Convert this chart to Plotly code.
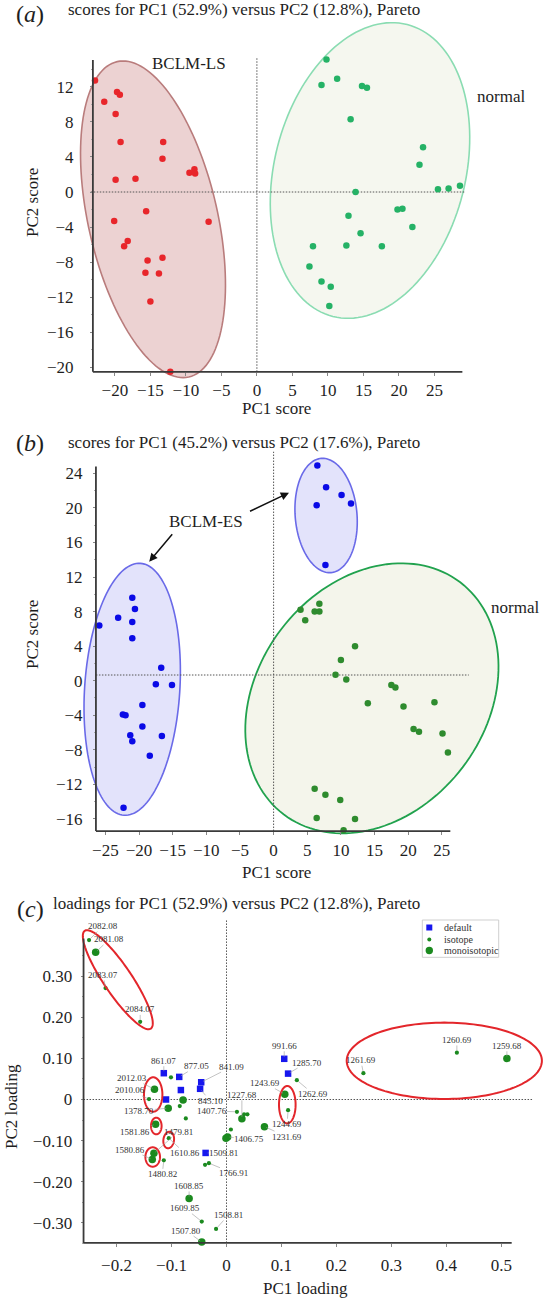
import numpy as np
import plotly.graph_objects as go

W, H = 544, 1298
SERIF = "Liberation Serif"
TXT = "#1e1e1e"

# ---------------- (a) scores, PC1 (52.9%) vs PC2 (12.8%) ----------------
a_ls_pc1 = [-22.8, -21.5, -19.7, -19.3, -19.9, -19.2, -19.9, -17.1, -13.2, -13.3, -9.5, -8.8,
            -8.7, -6.8, -15.6, -20.1, -18.2, -18.7, -15.4, -13.3, -15.7, -13.8, -15.0, -12.2]
a_ls_pc2 = [12.7, 10.3, 11.4, 11.1, 8.9, 5.7, 1.4, 1.5, 5.7, 3.8, 2.2, 2.6,
            2.1, -3.4, -2.2, -3.3, -5.6, -6.2, -7.8, -7.5, -9.2, -9.3, -12.5, -20.5]
a_norm_pc1 = [9.8, 9.1, 11.3, 14.8, 15.5, 13.2, 23.4, 22.9, 25.5, 27.0, 28.6, 13.9,
              19.8, 20.5, 12.9, 21.9, 14.6, 7.9, 12.6, 17.6, 7.4, 9.1, 10.4, 10.2]
a_norm_pc2 = [15.1, 12.2, 12.9, 12.1, 11.9, 8.3, 5.1, 3.1, 0.3, 0.4, 0.7, 0.0,
              -2.0, -1.9, -2.7, -4.0, -4.7, -6.2, -6.1, -6.2, -8.5, -10.2, -10.8, -13.0]
a_xticks = [-20, -15, -10, -5, 0, 5, 10, 15, 20, 25]
a_yticks = [-20, -16, -12, -8, -4, 0, 4, 8, 12]

# ---------------- (b) scores, PC1 (45.2%) vs PC2 (17.6%) ----------------
b_es_pc1 = [6.5, 7.8, 10.1, 11.5, 6.4, 7.7, -25.9, -23.1, -21.0, -20.6, -21.0, -21.0,
            -16.7, -17.5, -15.1, -19.5, -22.4, -22.0, -19.5, -21.3, -21.0, -16.6, -18.4, -22.3]
b_es_pc2 = [24.9, 22.4, 21.5, 20.5, 20.3, 13.4, 6.4, 7.3, 9.6, 8.3, 6.8, 4.9,
            1.5, -0.4, -0.5, -2.8, -3.9, -4.0, -5.3, -6.3, -7.0, -6.4, -8.7, -14.7]
b_norm_pc1 = [4.0, 6.8, 6.1, 6.8, 4.7, 12.1, 10.0, 9.2, 10.8, 17.5, 18.1, 14.0,
              19.3, 23.9, 20.8, 21.6, 25.1, 25.9, 6.1, 7.7, 9.9, 6.4, 12.1, 10.4]
b_norm_pc2 = [8.2, 8.9, 8.0, 8.0, 7.0, 4.0, 2.4, 0.7, 0.15, -0.5, -0.8, -2.6,
              -3.0, -2.5, -5.6, -5.9, -6.1, -8.3, -12.5, -13.2, -13.8, -15.9, -16.0, -17.3]
b_xticks = [-25, -20, -15, -10, -5, 0, 5, 10, 15, 20, 25]
b_yticks = [-16, -12, -8, -4, 0, 4, 8, 12, 16, 20, 24]

# ---------------- (c) loadings, PC1 (52.9%) vs PC2 (12.8%) ----------------
c_def_pc1 = [-0.114, -0.086, -0.083, -0.046, -0.048, -0.110, 0.105, 0.112, -0.038]
c_def_pc2 = [0.064, 0.055, 0.023, 0.042, 0.026, 0.000, 0.099, 0.063, -0.130]
c_def_lab = ["861.07", "877.05", "", "841.09", "845.10", "", "991.66", "1285.70", "1509.81"]

c_iso_pc1 = [-0.250, -0.220, -0.157, 0.419, 0.249, 0.128, 0.112, -0.101, -0.141, -0.085, -0.074,
             -0.105, -0.114, 0.019, 0.032, 0.038, 0.008, -0.039, -0.032, -0.045, -0.019]
c_iso_pc2 = [0.388, 0.271, 0.189, 0.114, 0.064, 0.047, -0.026, 0.054, 0.001, -0.016, -0.046,
             -0.094, -0.148, -0.030, -0.036, -0.036, -0.073, -0.159, -0.155, -0.297, -0.315]
c_iso_lab = ["2082.08", "2083.07", "2084.07", "1260.69", "1261.69", "1262.69", "1244.69", "",
             "2010.06", "", "", "1610.86", "1480.82", "1407.76", "", "", "", "", "1766.91",
             "1609.85", "1508.81"]

c_mono_pc1 = [-0.238, 0.510, 0.106, -0.131, -0.079, -0.106, -0.129, -0.132, -0.135, 0.028,
              0.069, 0.002, -0.001, -0.068, -0.045]
c_mono_pc2 = [0.358, 0.100, 0.013, 0.025, -0.001, -0.021, -0.060, -0.131, -0.146, -0.047,
              -0.066, -0.091, -0.094, -0.241, -0.347]
c_mono_lab = ["2081.08", "1259.68", "1243.69", "2012.03", "", "1378.70", "1581.86", "1479.81",
              "1580.86", "1227.68", "1231.69", "1406.75", "", "1608.85", "1507.80"]
c_xticks = [-0.2, -0.1, 0, 0.1, 0.2, 0.3, 0.4, 0.5]
c_xticktext = ["\u22120.2", "\u22120.1", "0", "0.1", "0.2", "0.3", "0.4", "0.5"]
c_yticks = [-0.3, -0.2, -0.1, 0, 0.1, 0.2, 0.3]
c_yticktext = ["\u22120.30", "\u22120.20", "\u22120.10", "0", "0.10", "0.20", "0.30"]

# label offsets (pixels, text centre relative to point)
label_offsets = {
    "861.07": (0, -12.5), "877.05": (17.7, -10.7), "841.09": (30.7, -15.6), "845.10": (10, 12),
    "991.66": (0, -13), "1285.70": (19, -11), "1509.81": (18.3, 0),
    "2082.08": (13.7, -14), "2083.07": (-2.4, -13.3), "2084.07": (0, -12.4),
    "1260.69": (0, -12.7), "1261.69": (-2.6, -13), "1262.69": (16.3, 13.7), "1244.69": (-1, 14),
    "2010.06": (-19.3, -8.7), "1610.86": (16, 15), "1480.82": (-1.6, 14), "1407.76": (-25.3, -1),
    "1766.91": (24.6, 10), "1609.85": (-16.7, -13.4), "1508.81": (12.3, -14),
    "2081.08": (13.6, -13), "1259.68": (0, -12.6), "1243.69": (-19.7, -11), "2012.03": (-22, -11),
    "1378.70": (-29, 2.7), "1581.86": (-20.7, 7.4), "1479.81": (24.3, -21.6),
    "1580.86": (-22, -10), "1227.68": (0, -24), "1231.69": (22.4, 10), "1406.75": (21.6, 2.3),
    "1608.85": (0, -12.6), "1507.80": (-15.7, -11.6),
}

# ---------------- panel geometry (pixels) ----------------
panels = {
    "a": dict(dom_x=(55, 482), dom_y=(12, 388), x0=256.9, sx=7.10, y0=192.0, sy=8.77,
              xext=(-23.1, 28.94), yext=(-20.5, 15.05)),
    "b": dict(dom_x=(55, 515), dom_y=(440, 845), x0=273.6, sx=6.73, y0=680.7, sy=8.64,
              xext=(-26.4, 26.26), yext=(-17.4, 24.8)),
    "c": dict(dom_x=(55, 544), dom_y=(912, 1256), x0=226.5, sx=549.8, y0=1099.5, sy=411.0,
              xext=(-0.26, 0.5187), yext=(-0.349, 0.392)),
}
suffix = {"a": "", "b": "2", "c": "3"}

def px2x(p, px):
    return (px - p["x0"]) / p["sx"]

def px2y(p, py):
    return (p["y0"] - py) / p["sy"]

layout_axes = {}
tick_cfg = {
    "a": dict(xt=a_xticks, xtt=None, yt=a_yticks, ytt=None, xstand=0, ystand=13,
              yminor=[v for v in range(-20, 15) if v % 4 != 0 and v % 2 == 0]),
    "b": dict(xt=b_xticks, xtt=None, yt=b_yticks, ytt=None, xstand=1, ystand=7,
              yminor=[v for v in range(-16, 25) if v % 4 != 0 and v % 2 == 0]),
    "c": dict(xt=c_xticks, xtt=c_xticktext, yt=c_yticks, ytt=c_yticktext, xstand=4, ystand=5,
              yminor=[-0.35, -0.25, -0.15, -0.05, 0.05, 0.15, 0.25, 0.35]),
}
for k, p in panels.items():
    s = suffix[k]
    tc = tick_cfg[k]
    xr = [px2x(p, p["dom_x"][0]), px2x(p, p["dom_x"][1])]
    yr = [px2y(p, p["dom_y"][1]), px2y(p, p["dom_y"][0])]
    xline_px = p["y0"] - p["yext"][0] * p["sy"]
    yline_px = p["x0"] + p["xext"][0] * p["sx"]
    common = dict(showgrid=False, zeroline=False, showline=False, ticks="outside", ticklen=3,
                  tickwidth=1, tickcolor="#888", automargin=False, anchor="free",
                  tickfont=dict(family=SERIF, size=17, color=TXT), tickmode="array")
    xa = dict(common, domain=[p["dom_x"][0] / W, p["dom_x"][1] / W], range=xr,
              position=1 - xline_px / H, tickvals=tc["xt"], ticklabelstandoff=tc["xstand"])
    ya = dict(common, domain=[1 - p["dom_y"][1] / H, 1 - p["dom_y"][0] / H], range=yr,
              position=yline_px / W, tickvals=tc["yt"], ticklabelstandoff=tc["ystand"],
              minor=dict(tickmode="array", tickvals=tc["yminor"], ticks="outside", ticklen=2,
                         tickcolor="#aaa", tickwidth=1, showgrid=False))
    if tc["xtt"]:
        xa["ticktext"] = tc["xtt"]
    if tc["ytt"]:
        ya["ticktext"] = tc["ytt"]
    layout_axes["xaxis" + s] = xa
    layout_axes["yaxis" + s] = ya

shapes = []
annots = []

def ellipse_shape(k, cx_px, cy_px, a_px, b_px, tilt, fill, line, lw, layer="below"):
    p = panels[k]
    s = suffix[k]
    phi = np.radians(tilt)
    t = np.linspace(0, 2 * np.pi, 145)
    dx = a_px * np.cos(t) * np.sin(phi) + b_px * np.sin(t) * np.cos(phi)
    dy = -a_px * np.cos(t) * np.cos(phi) + b_px * np.sin(t) * np.sin(phi)
    X = px2x(p, cx_px + dx)
    Y = px2y(p, cy_px + dy)
    path = "M " + " L ".join(f"{x:.5f},{y:.5f}" for x, y in zip(X, Y)) + " Z"
    shapes.append(dict(type="path", path=path, xref="x" + s, yref="y" + s, layer=layer,
                       fillcolor=fill, line=dict(color=line, width=lw)))

# (a) ellipses
ellipse_shape("a", 153.0, 219.3, 161.7, 64.6, -12.8, "#ecd2d2", "#b97c7c", 1.6)
ellipse_shape("a", 370.0, 170.5, 150.6, 95.5, 14.3, "#f5f7ef", "#8adcb2", 1.6)
# (b) ellipses
ellipse_shape("b", 326.1, 515.5, 57.3, 30.9, -4.9, "#e3e3fb", "#6a6ae8", 1.6)
ellipse_shape("b", 132.2, 689.3, 126.2, 47.6, 3.7, "#e3e3fb", "#6a6ae8", 1.6)
ellipse_shape("b", 371.9, 698.3, 145.8, 114.0, 37.3, "#f4f5eb", "#21a24e", 1.8)
# (c) red highlight ellipses
RED = "#e3262b"
NOFILL = "rgba(0,0,0,0)"
ellipse_shape("c", 117.8, 979.7, 59.0, 14.0, -34.0, NOFILL, RED, 2, "above")
ellipse_shape("c", 444.3, 1060.8, 38.2, 97.6, 0.0, NOFILL, RED, 2, "above")
ellipse_shape("c", 287.3, 1104.7, 18.7, 8.3, 0.0, NOFILL, RED, 2, "above")
ellipse_shape("c", 153.2, 1094.5, 17.2, 9.2, 0.0, NOFILL, RED, 2, "above")
ellipse_shape("c", 156.3, 1126.0, 8.3, 5.3, 0.0, NOFILL, RED, 2, "above")
ellipse_shape("c", 168.7, 1140.0, 8.3, 5.3, 8.0, NOFILL, RED, 2, "above")
ellipse_shape("c", 152.7, 1157.0, 9.7, 7.3, 0.0, NOFILL, RED, 2, "above")

# axis lines and dotted reference lines
ref_lines = {
    "a": dict(h=(0.0, -23.4, 29.4), v=(0.0, -20.5, 15.25)),
    "b": dict(h=(0.66, -26.4, 29.0), v=(0.0, -17.4, 26.5)),
    "c": dict(h=(0.0, -0.26, 0.5566), v=(0.0, -0.349, 0.437)),
}
for k, p in panels.items():
    s = suffix[k]
    (x_lo, x_hi), (y_lo, y_hi) = p["xext"], p["yext"]
    ax_line = dict(color="#3a3a3a", width=1.8)
    shapes.append(dict(type="line", xref="x" + s, yref="y" + s, x0=x_lo, x1=x_hi, y0=y_lo, y1=y_lo,
                       line=ax_line, layer="above"))
    shapes.append(dict(type="line", xref="x" + s, yref="y" + s, x0=x_lo, x1=x_lo, y0=y_lo, y1=y_hi,
                       line=ax_line, layer="above"))
    hv, h0, h1 = ref_lines[k]["h"]
    vv, v0, v1 = ref_lines[k]["v"]
    dl = dict(color="#555", width=1, dash="1.5px,1.5px")
    shapes.append(dict(type="line", xref="x" + s, yref="y" + s, x0=h0, x1=h1, y0=hv, y1=hv,
                       line=dl, layer="below"))
    shapes.append(dict(type="line", xref="x" + s, yref="y" + s, x0=vv, x1=vv, y0=v0, y1=v1,
                       line=dl, layer="below"))

# ---------------- traces ----------------
fig = go.Figure()
fig.add_trace(go.Scatter(x=a_ls_pc1, y=a_ls_pc2, mode="markers", xaxis="x", yaxis="y",
                         marker=dict(color="#e8262b", size=6.5), cliponaxis=False))
fig.add_trace(go.Scatter(x=a_norm_pc1, y=a_norm_pc2, mode="markers", xaxis="x", yaxis="y",
                         marker=dict(color="#25b266", size=6.5), cliponaxis=False))
fig.add_trace(go.Scatter(x=b_es_pc1, y=b_es_pc2, mode="markers", xaxis="x2", yaxis="y2",
                         marker=dict(color="#0a0ae6", size=6.5), cliponaxis=False))
fig.add_trace(go.Scatter(x=b_norm_pc1, y=b_norm_pc2, mode="markers", xaxis="x2", yaxis="y2",
                         marker=dict(color="#2e8b2e", size=6.5), cliponaxis=False))
GREEN_C = "#1b8a1f"
fig.add_trace(go.Scatter(x=c_def_pc1, y=c_def_pc2, mode="markers", xaxis="x3", yaxis="y3",
                         marker=dict(color="#1717ee", size=6.5, symbol="square"), cliponaxis=False))
fig.add_trace(go.Scatter(x=c_iso_pc1, y=c_iso_pc2, mode="markers", xaxis="x3", yaxis="y3",
                         marker=dict(color=GREEN_C, size=4.2), cliponaxis=False))
fig.add_trace(go.Scatter(x=c_mono_pc1, y=c_mono_pc2, mode="markers", xaxis="x3", yaxis="y3",
                         marker=dict(color=GREEN_C, size=7.5), cliponaxis=False))

# point labels in (c)
for xs, ys, labs in [(c_def_pc1, c_def_pc2, c_def_lab), (c_iso_pc1, c_iso_pc2, c_iso_lab),
                     (c_mono_pc1, c_mono_pc2, c_mono_lab)]:
    for x, y, lab in zip(xs, ys, labs):
        if not lab:
            continue
        ox, oy = label_offsets[lab]
        annots.append(dict(x=x, y=y, xref="x3", yref="y3", text=lab, showarrow=True,
                           arrowhead=0, arrowwidth=0.6, arrowcolor="#9a9a9a", standoff=2,
                           ax=ox, ay=oy, borderpad=0,
                           font=dict(family=SERIF, size=9, color="#333")))

# ---------------- text annotations ----------------
def txt(x_px, y_px, text, size=17, xanchor="center", yanchor="middle", angle=0, color=TXT):
    annots.append(dict(x=x_px / W, y=1 - y_px / H, xref="paper", yref="paper", text=text,
                       showarrow=False, xanchor=xanchor, yanchor=yanchor, textangle=angle,
                       font=dict(family=SERIF, size=size, color=color)))

txt(14, 14, "(<i>a</i>)", size=24, xanchor="left")
txt(66, 9.5, "scores for PC1 (52.9%) versus PC2 (12.8%), Pareto", xanchor="left")
txt(189, 63.5, "BCLM-LS")
txt(501, 97, "normal")
txt(32, 203, "PC2 score", angle=-90)
txt(276, 408, "PC1 score")

txt(14, 443, "(<i>b</i>)", size=24, xanchor="left")
txt(66, 442.5, "scores for PC1 (45.2%) versus PC2 (17.6%), Pareto", xanchor="left")
txt(206, 521, "BCLM-ES")
txt(515, 607, "normal")
txt(32, 635, "PC2 score", angle=-90)
txt(276, 873, "PC1 score")

txt(15, 909, "(<i>c</i>)", size=24, xanchor="left")
txt(51, 903.5, "loadings for PC1 (52.9%) versus PC2 (12.8%), Pareto", xanchor="left")
txt(11, 1107, "PC2 loading", angle=-90)
txt(305, 1288, "PC1 loading")

# BCLM-ES arrows
for head, tail in [((289, 492.7), (248.5, 512)), ((149.2, 561.7), (173.5, 532.7))]:
    annots.append(dict(x=head[0] / W, y=1 - head[1] / H, xref="paper", yref="paper", text="",
                       showarrow=True, arrowhead=2, arrowsize=1.1, arrowwidth=1.5,
                       arrowcolor="#111", ax=tail[0] - head[0], ay=tail[1] - head[1]))

# manual legend for (c)
shapes.append(dict(type="rect", xref="paper", yref="paper", x0=422.3 / W, x1=498.7 / W,
                   y0=1 - 957.3 / H, y1=1 - 920 / H, line=dict(color="#cfcfcf", width=1),
                   fillcolor="white", layer="above"))
shapes.append(dict(type="rect", xref="paper", yref="paper", x0=426.3 / W, x1=432.3 / W,
                   y0=1 - 930.5 / H, y1=1 - 924.5 / H, line=dict(width=0), fillcolor="#1717ee",
                   layer="above"))
shapes.append(dict(type="circle", xref="paper", yref="paper", x0=427.3 / W, x1=431.3 / W,
                   y0=1 - 941.5 / H, y1=1 - 937.5 / H, line=dict(width=0), fillcolor=GREEN_C,
                   layer="above"))
shapes.append(dict(type="circle", xref="paper", yref="paper", x0=425.6 / W, x1=433.0 / W,
                   y0=1 - 954.2 / H, y1=1 - 946.8 / H, line=dict(width=0), fillcolor=GREEN_C,
                   layer="above"))
for yy, t in [(927.5, "default"), (939.5, "isotope"), (950.7, "monoisotopic")]:
    txt(441.5, yy, t, size=10, xanchor="left", color="#333")

fig.update_layout(width=W, height=H, margin=dict(l=0, r=0, t=0, b=0), template="none",
                  paper_bgcolor="white", plot_bgcolor="rgba(0,0,0,0)", showlegend=False,
                  hovermode=False, font=dict(family=SERIF, color=TXT), shapes=shapes,
                  annotations=annots, **layout_axes)
# the page's default 8px body margin would shift the figure; remove it so the
# 544x1298 figure fills the 544x1298 window exactly
fig.write_html("out.html", config={"displayModeBar": False, "staticPlot": True},
               post_script="document.body.style.margin='0';document.body.style.padding='0';"
                           "document.body.style.overflow='hidden';")
